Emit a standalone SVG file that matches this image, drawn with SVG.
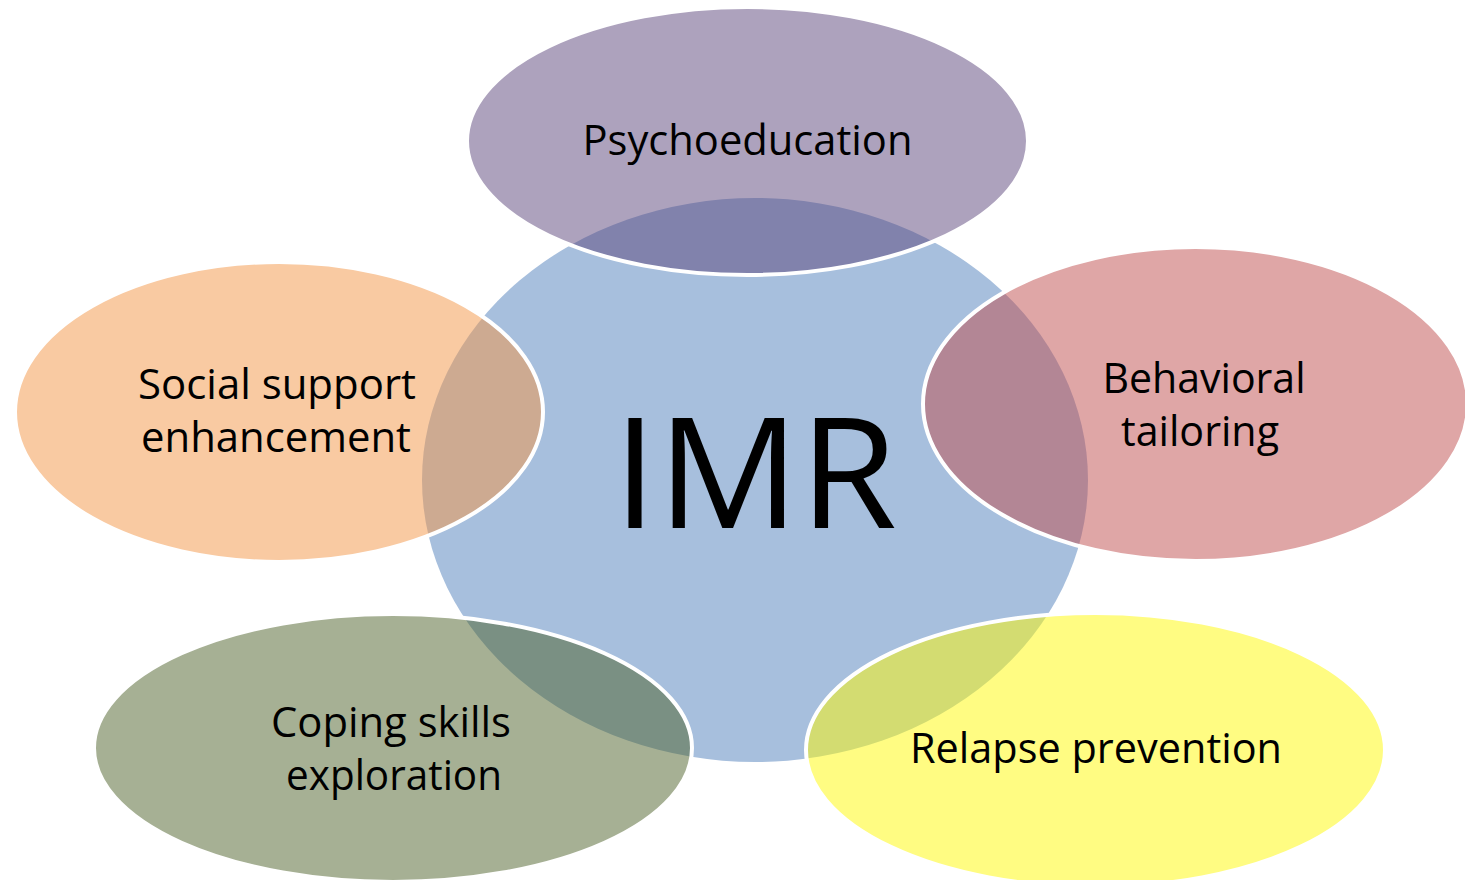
<svg xmlns="http://www.w3.org/2000/svg" width="1465" height="880" viewBox="0 0 1465 880">
  <style>
    .petal { stroke: #ffffff; stroke-width: 4; fill-opacity: 0.5; }
    .label { font-family: "Open Sans", "Noto Sans", "Liberation Sans", sans-serif; font-size: 42px; fill: #000000; text-anchor: middle; }
    .core { font-family: "Open Sans", "Noto Sans", "Liberation Sans", sans-serif; font-size: 154px; fill: #000000; text-anchor: middle; }
  </style>
  <rect width="1465" height="880" fill="#ffffff"/>

  <!-- central hub -->
  <g id="node-imr">
    <ellipse cx="755" cy="480" rx="333" ry="282" fill="#a7bfdd"/>
  </g>

  <!-- surrounding components, translucent so the overlaps darken -->
  <g id="node-psychoeducation">
    <ellipse class="petal" cx="747.5" cy="141" rx="280.5" ry="134" fill="#5b457b"/>
  </g>
  <g id="node-behavioral">
    <ellipse class="petal" cx="1195.5" cy="404" rx="272.5" ry="157" fill="#bf4d4d"/>
  </g>
  <g id="node-social">
    <ellipse class="petal" cx="279" cy="412" rx="264" ry="150" fill="#f39545"/>
  </g>
  <g id="node-coping">
    <ellipse class="petal" cx="393" cy="748" rx="299" ry="134" fill="#4d6129"/>
  </g>
  <g id="node-relapse">
    <ellipse class="petal" cx="1095.5" cy="750" rx="289.5" ry="137" fill="#fff905"/>
  </g>

  <g id="connectors"/>

  <!-- labels -->
  <g id="labels">
    <text class="core" x="755" y="528" textLength="284" lengthAdjust="spacingAndGlyphs">IMR</text>
    <text class="label" x="747.5" y="155" textLength="330" lengthAdjust="spacingAndGlyphs">Psychoeducation</text>
    <text class="label" x="277" y="399" textLength="278" lengthAdjust="spacingAndGlyphs">Social support</text>
    <text class="label" x="276" y="452" textLength="270" lengthAdjust="spacingAndGlyphs">enhancement</text>
    <text class="label" x="1204" y="393" textLength="203" lengthAdjust="spacingAndGlyphs">Behavioral</text>
    <text class="label" x="1200" y="446" textLength="158" lengthAdjust="spacingAndGlyphs">tailoring</text>
    <text class="label" x="391" y="737" textLength="240" lengthAdjust="spacingAndGlyphs">Coping skills</text>
    <text class="label" x="394" y="790" textLength="216" lengthAdjust="spacingAndGlyphs">exploration</text>
    <text class="label" x="1096" y="763" textLength="372" lengthAdjust="spacingAndGlyphs">Relapse prevention</text>
  </g>
</svg>
